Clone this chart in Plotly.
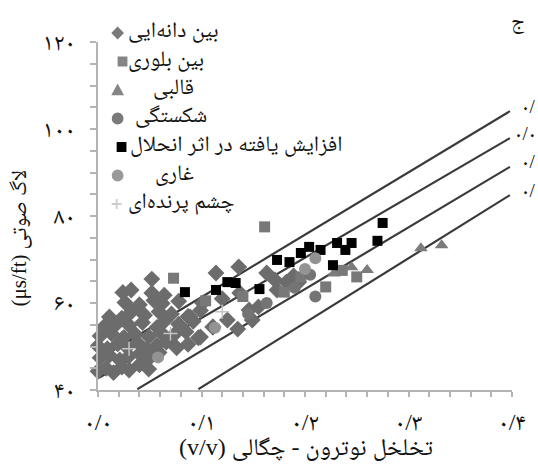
import plotly.graph_objects as go

# ---------------- data ----------------
x_ticks = [0.0, 0.1, 0.2, 0.3, 0.4]
x_tick_text = ["۰/۰", "۰/۱", "۰/۲", "۰/۳", "۰/۴"]
y_ticks = [40, 60, 80, 100, 120]
y_tick_text = ["۴۰", "۶۰", "۸۰", "۱۰۰", "۱۲۰"]

# intergranular (diamonds)
inter_x = [0.000, 0.008, 0.015, 0.023, 0.030, 0.040, 0.049,
           0.002, 0.011, 0.021, 0.030, 0.040, 0.049, 0.059,
           0.000, 0.009, 0.019, 0.028, 0.038, 0.047, 0.057, 0.066, 0.076, 0.087,
           0.002, 0.013, 0.025, 0.036, 0.049, 0.061, 0.073, 0.085, 0.097,
           0.006, 0.018, 0.030, 0.043, 0.057, 0.065, 0.078, 0.092, 0.111,
           0.011, 0.023, 0.032, 0.045, 0.059, 0.071, 0.087, 0.099,
           0.026, 0.040, 0.054, 0.062, 0.078, 0.101, 0.120,
           0.024, 0.032, 0.052, 0.064,
           0.052, 0.114, 0.136, 0.137, 0.146, 0.155, 0.163, 0.171, 0.089, 0.111,
           0.099, 0.125, 0.135, 0.149, 0.173, 0.182, 0.189, 0.194]
inter_y = [44.3, 45.0, 44.0, 45.3, 44.6, 45.8, 44.8,
           47.4, 48.0, 46.9, 47.8, 48.3, 47.2, 48.6,
           50.1, 49.5, 50.6, 49.8, 50.9, 49.4, 50.3, 51.0, 49.7, 50.5,
           52.4, 53.0, 52.1, 52.8, 52.3, 53.2, 52.6, 53.4, 52.0,
           54.6, 55.2, 54.9, 55.5, 54.4, 56.0, 55.1, 55.8, 54.5,
           56.8, 56.5, 57.9, 57.2, 58.0, 57.5, 56.9, 58.3,
           60.1, 59.6, 60.6, 59.9, 60.4, 60.0, 61.0,
           62.4, 63.0, 62.3, 61.8,
           65.5, 66.9, 68.3, 62.3, 58.4, 59.1, 66.9, 65.3, 56.8, 54.5,
           52.2, 56.1, 54.0, 56.1, 63.0, 64.8, 66.2, 64.8]

# intercrystalline (squares)
cryst_x = [0.161, 0.073, 0.220, 0.196, 0.236, 0.104, 0.140, 0.180, 0.250]
cryst_y = [77.5, 65.7, 63.7, 66.0, 67.5, 60.5, 61.5, 62.5, 66.0]

# moldic (triangles)
mold_x = [0.312, 0.332, 0.260, 0.245, 0.228]
mold_y = [72.6, 73.3, 67.6, 68.2, 66.8]

# fracture (circles)
frac_x = [0.205, 0.190, 0.163, 0.210, 0.145]
frac_y = [66.5, 63.5, 60.0, 61.5, 57.5]

# solution enhanced (black squares)
sol_x = [0.084, 0.114, 0.125, 0.133, 0.156, 0.173, 0.185, 0.196, 0.204, 0.215,
         0.227, 0.231, 0.239, 0.245, 0.270, 0.275]
sol_y = [62.5, 63.0, 64.8, 64.6, 63.2, 69.9, 69.4, 71.5, 72.9, 72.2,
         68.7, 73.8, 72.2, 73.8, 74.3, 78.4]

# vuggy (light circles)
vug_x = [0.210, 0.113, 0.200, 0.058]
vug_y = [70.3, 54.3, 67.8, 47.5]

# birdseye (plus)
bird_x = [0.030, 0.070, 0.120]
bird_y = [49.5, 53.0, 58.0]

# reference lines
line_x0 = [0.004, 0.001, 0.038, 0.097]
line_y0 = [47.6, 42.8, 40.2, 40.2]
line_x1 = [0.398, 0.398, 0.398, 0.398]
line_y1 = [104.1, 97.9, 91.3, 84.8]
line_labels = ["۰/", "۰/۰", "۰/", "۰/"]

legend_names = ["بین دانه‌ایی", "بین بلوری", "قالبی", "شکستگی",
                "افزایش یافته در اثر انحلال", "غاری", "چشم پرنده‌ای"]

# ---------------- styling ----------------
W, H = 538, 467
ML, MR, MT, MB = 98, 18, 42, 77
PW, PH = W - ML - MR, H - MT - MB
FONT = "Liberation Serif, Noto Naskh Arabic, Noto Sans Arabic, DejaVu Sans"
RLE, PDF = "\u202b", "\u202c"


def px_to_paper(px, py):
    return (px - ML) / PW, (H - MB - py) / PH


series = [
    (inter_x, inter_y, "diamond", "#6c6c6c", 13),
    (cryst_x, cryst_y, "square", "#787878", 11),
    (mold_x, mold_y, "triangle-up", "#7c7c7c", 12),
    (frac_x, frac_y, "circle", "#747474", 12),
    (sol_x, sol_y, "square", "#000000", 10),
    (vug_x, vug_y, "circle", "#939393", 12),
    (bird_x, bird_y, "cross-thin", "#c4c4c4", 10),
]

fig = go.Figure()

for i in range(len(line_x0)):
    fig.add_trace(go.Scatter(
        x=[line_x0[i], line_x1[i]], y=[line_y0[i], line_y1[i]],
        mode="lines", line=dict(color="#3a3a3a", width=2.2),
        showlegend=False, hoverinfo="skip"))

for (xs, ys, sym, col, sz), name in zip(series, legend_names):
    fig.add_trace(go.Scatter(
        x=xs, y=ys, mode="markers", name=name, showlegend=False,
        cliponaxis=False,
        marker=dict(symbol=sym, color=col, size=sz,
                    line=dict(width=1.5 if sym == "cross-thin" else 0, color=col))))

# ---------- manual legend: shapes for symbols, annotations for text ----------
leg_marker_px = [118, 123, 118, 118, 122, 118, 117]
leg_text_px = [127, 127, 152, 134, 129, 154, 127]
leg_colors = ["#7a7a7a", "#858585", "#858585", "#7a7a7a", "#000000", "#999999", "#cccccc"]
leg_top, leg_step = 33, 28.5
shapes = []


def pp(px, py):
    x, y = px_to_paper(px, py)
    return f"{x:.5f},{y:.5f}"


for i, (xs, ys, sym, col, sz) in enumerate(series):
    cx, cy = leg_marker_px[i], leg_top + i * leg_step
    c = leg_colors[i]
    if sym == "diamond":
        s = 6.5
        path = f"M{pp(cx, cy - s)} L{pp(cx + s, cy)} L{pp(cx, cy + s)} L{pp(cx - s, cy)} Z"
        shapes.append(dict(type="path", path=path, xref="paper", yref="paper",
                           fillcolor=c, line=dict(width=0)))
    elif sym == "square":
        s = 5
        x0, y0 = px_to_paper(cx - s, cy + s)
        x1, y1 = px_to_paper(cx + s, cy - s)
        shapes.append(dict(type="rect", x0=x0, y0=y0, x1=x1, y1=y1, xref="paper",
                           yref="paper", fillcolor=c, line=dict(width=0)))
    elif sym == "triangle-up":
        s = 6.5
        path = f"M{pp(cx, cy - s)} L{pp(cx + s, cy + s * 0.8)} L{pp(cx - s, cy + s * 0.8)} Z"
        shapes.append(dict(type="path", path=path, xref="paper", yref="paper",
                           fillcolor=c, line=dict(width=0)))
    elif sym == "circle":
        s = 6
        x0, y0 = px_to_paper(cx - s, cy + s)
        x1, y1 = px_to_paper(cx + s, cy - s)
        shapes.append(dict(type="circle", x0=x0, y0=y0, x1=x1, y1=y1, xref="paper",
                           yref="paper", fillcolor=c, line=dict(width=0)))
    else:
        s = 5
        path = f"M{pp(cx - s, cy)} L{pp(cx + s, cy)} M{pp(cx, cy - s)} L{pp(cx, cy + s)}"
        shapes.append(dict(type="path", path=path, xref="paper", yref="paper",
                           line=dict(width=1.8, color=c)))

annotations = []
for i, name in enumerate(legend_names):
    tx, ty = px_to_paper(leg_text_px[i], leg_top + i * leg_step - 3)
    annotations.append(dict(x=tx, y=ty, xref="paper", yref="paper", text=name,
                            showarrow=False, xanchor="left", yanchor="middle",
                            font=dict(family=FONT, size=22, color="#111")))

for i in range(len(line_labels)):
    annotations.append(dict(x=line_x1[i], y=line_y1[i], xref="x", yref="y",
                            text=line_labels[i], showarrow=False,
                            xanchor="right", yanchor="middle",
                            xshift=28, yshift=5,
                            font=dict(family=FONT, size=19, color="#111")))

tx, ty = px_to_paper(526, 22)
annotations.append(dict(x=tx, y=ty, xref="paper", yref="paper", text="ج",
                        showarrow=False, xanchor="center", yanchor="middle",
                        font=dict(family=FONT, size=21, color="#111")))
tx, ty = px_to_paper(17, 238)
annotations.append(dict(x=tx, y=ty, xref="paper", yref="paper",
                        text=RLE + "لاگ صوتی (μs/ft)" + PDF, textangle=-90,
                        showarrow=False, xanchor="center", yanchor="middle",
                        font=dict(family=FONT, size=21, color="#111")))
tx, ty = px_to_paper(310, 447)
annotations.append(dict(x=tx, y=ty, xref="paper", yref="paper",
                        text=RLE + "تخلخل نوترون - چگالی (v/v)" + PDF,
                        showarrow=False, xanchor="center", yanchor="middle",
                        font=dict(family=FONT, size=24, color="#111")))

axis_common = dict(showgrid=False, zeroline=False, showline=True,
                   linecolor="#b4b4b4", linewidth=2, ticks="outside",
                   tickcolor="#b4b4b4", tickwidth=1.5,
                   tickfont=dict(family=FONT, size=24, color="#111"))

fig.update_layout(
    width=W, height=H,
    margin=dict(l=ML, r=MR, t=MT, b=MB),
    paper_bgcolor="white", plot_bgcolor="white",
    showlegend=False,
    annotations=annotations,
    shapes=shapes,
    xaxis=dict(range=[0, 0.4], tickvals=x_ticks, ticktext=x_tick_text,
               ticklen=5, ticklabelstandoff=4,
               minor=dict(dtick=0.02, tick0=0, ticks="outside", ticklen=5,
                          tickcolor="#b4b4b4", tickwidth=1.5),
               **axis_common),
    yaxis=dict(range=[40, 120], tickvals=y_ticks, ticktext=y_tick_text,
               ticklen=6, ticklabelstandoff=10,
               minor=dict(dtick=5, tick0=40, ticks="outside", ticklen=6,
                          tickcolor="#b4b4b4", tickwidth=1.5),
               **axis_common),
)

fig.write_html("out.html")
